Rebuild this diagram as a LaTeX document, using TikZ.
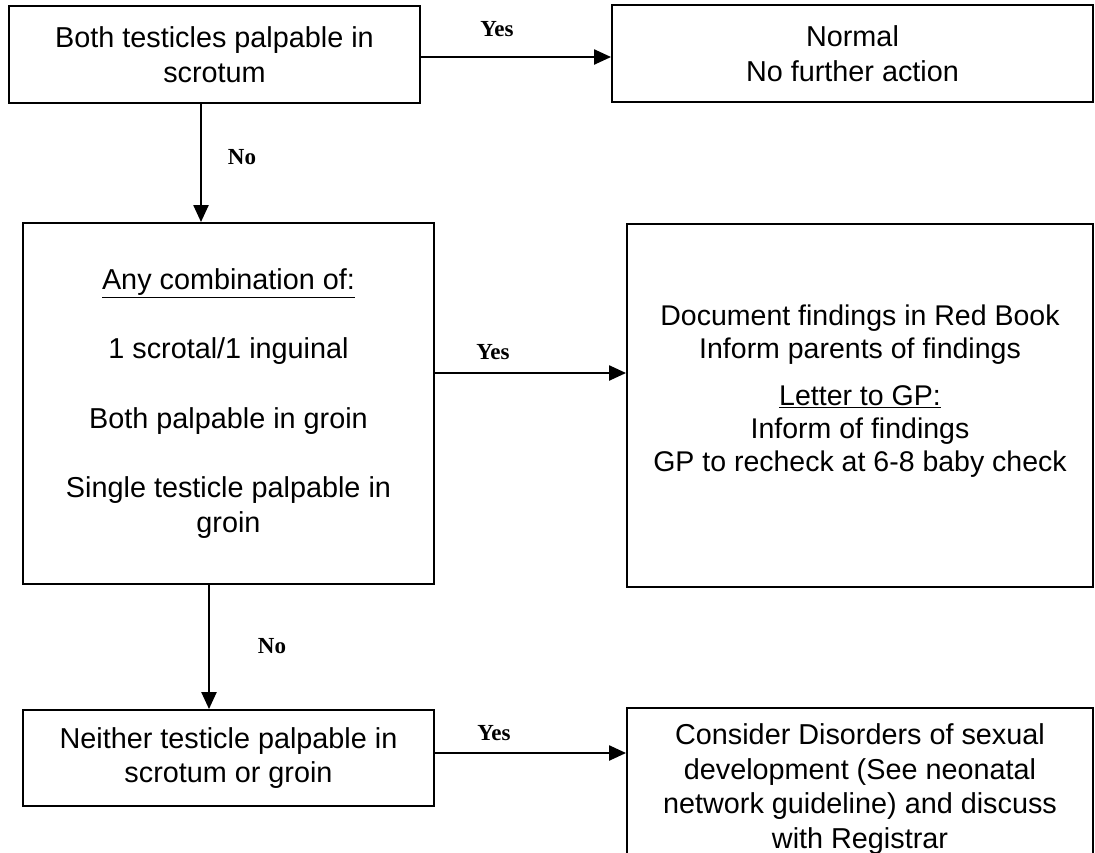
\documentclass[tikz,border=0pt]{standalone}
\usepackage{fontspec}
\setmainfont{Liberation Sans}
\newfontfamily\lblfont{Liberation Serif}
\usetikzlibrary{arrows.meta}
\begin{document}
\begin{tikzpicture}[x=1pt,y=-1pt,
  box/.style={draw=black, line width=1.9pt, rectangle, inner sep=0pt, align=center,
    font=\fontsize{28.8}{34.5}\selectfont},
  arr/.style={line width=2.3pt, -{Triangle[length=17pt,width=15pt]}},
  lbl/.style={font=\lblfont\bfseries\fontsize{23}{26}\selectfont, inner sep=0pt}]
\useasboundingbox (0,0) rectangle (1095,852);
\fill[white] (0,0) rectangle (1095,852);

\node[box, minimum width=411pt, minimum height=97pt] (b1) at (214.5,54.5)
  {Both testicles palpable in\\scrotum};
\node[box, minimum width=481pt, minimum height=97pt] (b2) at (852.5,53.5)
  {Normal\\No further action};
\node[box, minimum width=411pt, minimum height=361pt] (b3) at (228.5,403.5)
  {\underline{Any combination of:}\\[35pt]1 scrotal/1 inguinal\\[35pt]Both palpable in groin\\[35pt]Single testicle palpable in\\groin};
\node[box, minimum width=466pt, minimum height=363pt, font=\fontsize{28.5}{33}\selectfont] (b4) at (860,405.5)
  {Document findings in Red Book\\Inform parents of findings\\[14pt]\underline{Letter to GP:}\\Inform of findings\\GP to recheck at 6-8 baby check\\[-9pt]\strut};
\node[box, minimum width=411pt, minimum height=96pt] (b5) at (228.5,758)
  {Neither testicle palpable in\\scrotum or groin};
\node[box, minimum width=466pt, minimum height=162pt] (b6) at (860,789)
  {Consider Disorders of sexual\\development (See neonatal\\network guideline) and discuss\\with Registrar};

\draw[arr] ([yshift=-2.5pt]b1.east) -- ([yshift=-2.5pt]b1.east -| b2.west);
\draw[arr] ([xshift=-13.5pt]b1.south) -- ([xshift=-13.5pt]b1.south |- b3.north);
\draw[arr] ([yshift=30.5pt]b3.east) -- ([yshift=30.5pt]b3.east -| b4.west);
\draw[arr] ([xshift=-19.5pt]b3.south) -- ([xshift=-19.5pt]b3.south |- b5.north);
\draw[arr] ([yshift=5pt]b5.east) -- ([yshift=5pt]b5.east -| b6.west);

\node[lbl] (y1) at (497,29) {Yes};
\node[lbl] (n1) at (242,157) {No};
\node[lbl] (y2) at (493,352) {Yes};
\node[lbl] (n2) at (272,646) {No};
\node[lbl] (y3) at (494,733) {Yes};
\end{tikzpicture}
\end{document}
